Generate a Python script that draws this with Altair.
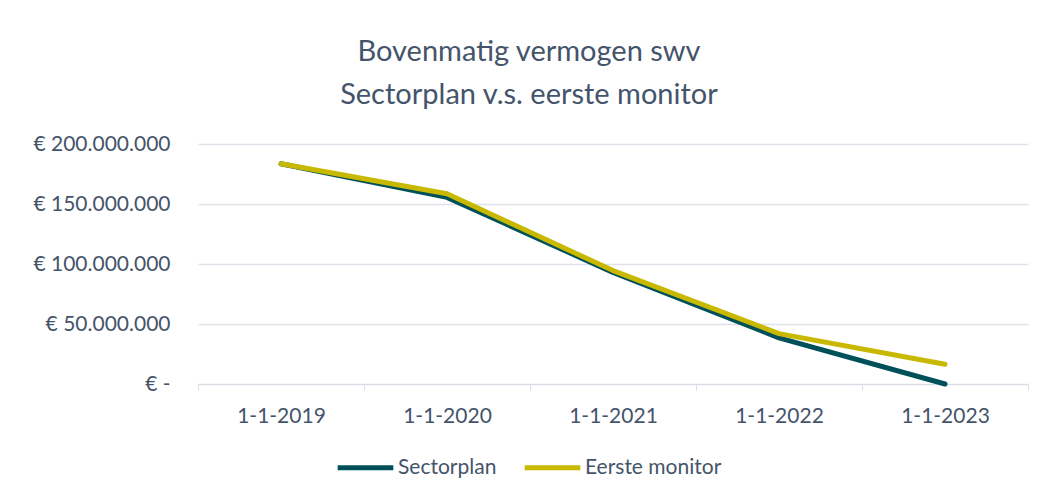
import altair as alt
import pandas as pd

dates = ["1-1-2019", "1-1-2020", "1-1-2021", "1-1-2022", "1-1-2023"]
sectorplan = [183500000, 155500000, 93000000, 38500000, 0]
eerste_monitor = [183500000, 158500000, 94500000, 42000000, 16500000]
series_names = ["Sectorplan", "Eerste monitor"]
colors = ["#00505A", "#C8B900"]

rows = []
for name, vals in zip(series_names, [sectorplan, eerste_monitor]):
    for d, v in zip(dates, vals):
        rows.append({"datum": d, "waarde": v, "reeks": name})
df = pd.DataFrame(rows)

text_color = "#44546A"
font = "Lato"

label_expr = ("datum.value == 0 ? '€ -' : '€ ' + "
              "replace(replace(format(datum.value, ','), ',', '.'), ',', '.')")

chart = alt.Chart(df).mark_line(strokeWidth=5, strokeCap="round", strokeJoin="round").encode(
    x=alt.X("datum:N", sort=dates, title=None,
            scale=alt.Scale(type="band", paddingInner=0, paddingOuter=0),
            bandPosition=0.5,
            axis=alt.Axis(tickBand="extent", labelAngle=0, grid=False,
                          domainColor="#D9DEE6", tickColor="#D9DEE6", tickSize=6,
                          labelPadding=15, labelFontSize=21, labelColor=text_color,
                          labelFont=font)),
    y=alt.Y("waarde:Q", title=None,
            scale=alt.Scale(domain=[0, 200000000], nice=False),
            axis=alt.Axis(values=[0, 50000000, 100000000, 150000000, 200000000],
                          labelExpr=label_expr, domain=False, ticks=False,
                          gridColor="#DDE1E8", gridWidth=1.5,
                          labelPadding=28, labelFontSize=21, labelColor=text_color,
                          labelFont=font)),
    color=alt.Color("reeks:N", sort=series_names,
                    scale=alt.Scale(domain=series_names, range=colors),
                    legend=alt.Legend(title=None, orient="none", direction="horizontal",
                                      legendX=137, legendY=293,
                                      symbolType="stroke", symbolSize=3100,
                                      symbolStrokeWidth=5, labelFontSize=21,
                                      labelColor=text_color, labelFont=font,
                                      labelOffset=2, columnPadding=17)),
    order=alt.Order("reeks:N", sort="descending"),
).properties(
    width=830,
    height=240,
    padding={"left": 190, "top": 136, "right": 8, "bottom": 110},
    autosize=alt.AutoSizeParams(type="none"),
    title=alt.TitleParams(
        text=["Bovenmatig vermogen swv", "Sectorplan v.s. eerste monitor"],
        fontSize=29, font=font, fontWeight="normal", color=text_color,
        anchor="middle", dx=-84, offset=23, lineHeight=43,
    ),
).configure(background="white").configure_view(strokeWidth=0)

chart.save("out.html", embed_options={"renderer": "svg", "actions": False})
